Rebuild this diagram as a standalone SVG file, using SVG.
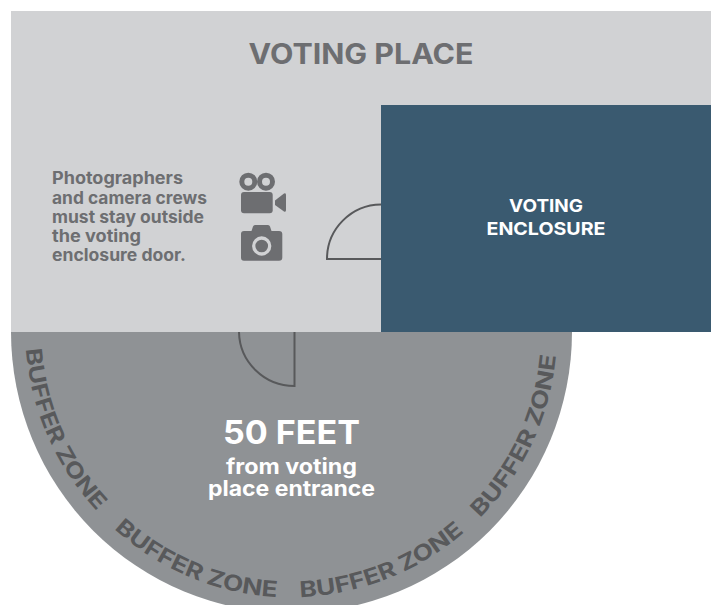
<svg xmlns="http://www.w3.org/2000/svg" width="712" height="605" viewBox="0 0 712 605">
<style>
text{font-family:"Inter","Liberation Sans",sans-serif}
.door{fill:none;stroke:#58595b;stroke-width:2}
.bz{font-size:22px;font-weight:700;fill:#58595b}
.note{font-size:17px;font-weight:700;fill:#6d6e71}
.w{fill:#fff;text-anchor:middle;font-weight:700}
.ic{fill:#6d6e71}
</style>
<defs>
<path id="a1" d="M26 349A265 265 0 0 0 97 511"/>
<path id="a2" d="M114 529A265 265 0 0 0 277 597"/>
<path id="a3" d="M300 597A265 265 0 0 0 463 533"/>
<path id="a4" d="M480 518A265 265 0 0 0 556 355"/>
</defs>
<rect width="712" height="605" fill="#fff"/>
<g id="buffer-zone">
<path d="M11 332A280.500 281 0 0 0 572 332Z" fill="#8f9295"/>
<text class="bz"><textPath href="#a1" textLength="180" lengthAdjust="spacingAndGlyphs">BUFFER ZONE</textPath></text>
<text class="bz"><textPath href="#a2" textLength="180" lengthAdjust="spacingAndGlyphs">BUFFER ZONE</textPath></text>
<text class="bz"><textPath href="#a3" textLength="180" lengthAdjust="spacingAndGlyphs">BUFFER ZONE</textPath></text>
<text class="bz"><textPath href="#a4" textLength="183" lengthAdjust="spacingAndGlyphs">BUFFER ZONE</textPath></text>
<text class="w" x="291.500" y="444" font-size="32" textLength="137" lengthAdjust="spacingAndGlyphs">50 FEET</text>
<text class="w" x="291.500" y="474" font-size="21" textLength="131" lengthAdjust="spacingAndGlyphs">from voting</text>
<text class="w" x="291.500" y="496" font-size="21" textLength="167" lengthAdjust="spacingAndGlyphs">place entrance</text>
<path class="door" d="M239 332A55.500 55 0 0 0 294.500 386V332"/>
</g>
<g id="voting-place">
<rect x="11" y="11" width="700" height="321" fill="#d1d2d4"/>
<text x="361" y="64" font-size="28" font-weight="700" fill="#6d6e71" text-anchor="middle" textLength="225" lengthAdjust="spacingAndGlyphs">VOTING PLACE</text>
<text class="note" x="52" y="184" textLength="131" lengthAdjust="spacingAndGlyphs">Photographers</text>
<text class="note" x="52" y="204" textLength="155" lengthAdjust="spacingAndGlyphs">and camera crews</text>
<text class="note" x="52" y="223" textLength="152" lengthAdjust="spacingAndGlyphs">must stay outside</text>
<text class="note" x="52" y="242" textLength="89" lengthAdjust="spacingAndGlyphs">the voting</text>
<text class="note" x="52" y="261" textLength="134" lengthAdjust="spacingAndGlyphs">enclosure door.</text>
</g>
<g id="video-camera-icon">
<circle cx="248.300" cy="181.700" r="6.500" fill="none" stroke="#6d6e71" stroke-width="5"/>
<circle cx="266" cy="181.700" r="6.500" fill="none" stroke="#6d6e71" stroke-width="5"/>
<rect class="ic" x="241" y="192" width="31.700" height="21.300" rx="3"/>
<path class="ic" d="M275 200.500L284 193.500Q286 192.500 286 195V210Q286 212.500 284 211.500L275 205Z"/>
</g>
<g id="camera-icon">
<path class="ic" d="M244 231H251.500L253 226.500Q253.500 225 255 225H268Q269.500 225 270 226.500L271.500 231H279Q282.300 231 282.300 234V257.500Q282.300 260.700 279 260.700H244Q241 260.700 241 257.500V234Q241 231 244 231Z"/>
<circle cx="261.700" cy="246" r="8" fill="none" stroke="#d1d2d4" stroke-width="3.300"/>
</g>
<g id="door-top">
<path class="door" d="M381 204.500A54.500 54.500 0 0 0 327 259H381"/>
</g>
<g id="voting-enclosure">
<rect x="381" y="105" width="330" height="227" fill="#3a5a70"/>
<text class="w" x="546" y="212" font-size="18" textLength="74" lengthAdjust="spacingAndGlyphs">VOTING</text>
<text class="w" x="546" y="235" font-size="18" textLength="119" lengthAdjust="spacingAndGlyphs">ENCLOSURE</text>
</g>
</svg>
